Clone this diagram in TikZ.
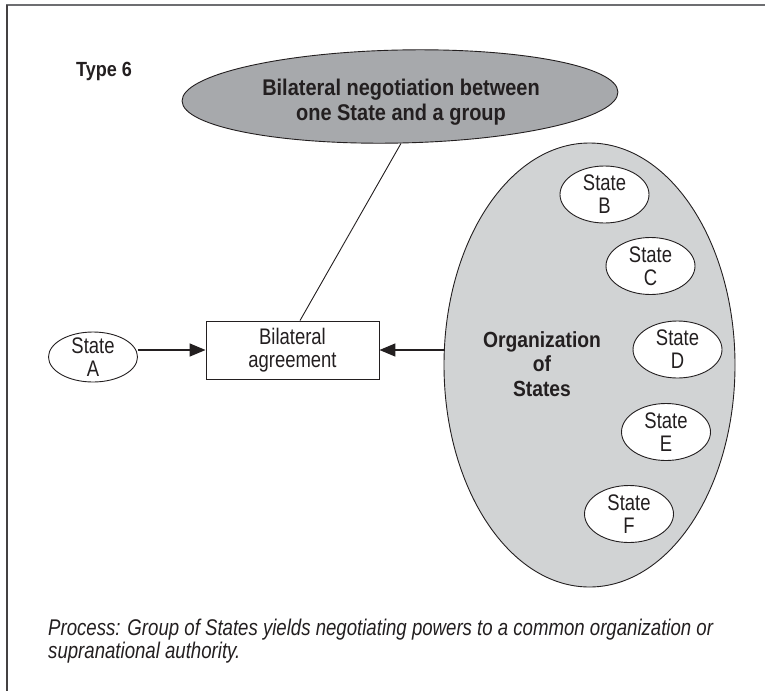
\documentclass[tikz,border=0pt]{standalone}
\usepackage{fontspec}
\setmainfont{Liberation Sans}
\newfontfamily\regfont{Liberation Sans}[FakeStretch=0.82]
\newfontfamily\boldfont{Liberation Sans}[FakeStretch=0.88]
\usetikzlibrary{shapes.geometric,arrows.meta}
\definecolor{txt}{HTML}{231F20}
\definecolor{darkfill}{HTML}{A7A9AC}
\definecolor{lightfill}{HTML}{D1D3D4}
\definecolor{framecol}{HTML}{6D6E71}
\begin{document}
\begin{tikzpicture}[x=1pt,y=-1pt,
  stateell/.style={ellipse, draw=txt, line width=0.9pt, fill=white, inner sep=0pt, outer sep=0pt,
    minimum width=89pt, minimum height=57pt},
  statelab/.style={font=\regfont\fontsize{22.5}{23}\selectfont, align=center, text=txt, inner sep=0pt},
  arrowline/.style={draw=txt, line width=1.5pt, -{Triangle[length=16pt,width=13pt]}},
  thinline/.style={draw=txt, line width=0.9pt}
]
\useasboundingbox (0,0) rectangle (765,691);
% frame
\coordinate (f0) at (6,5);
\coordinate (f1) at (765,5);
\coordinate (f2) at (7,691);
\draw[framecol, line width=2pt] (f0) -- (f1);
\draw[txt!85, line width=1.3pt] (f0 -| f2) -- (f2);

% title
\node[anchor=base west, inner sep=0pt, text=txt, font=\boldfont\bfseries\fontsize{20.5}{22}\selectfont] (type) at (76,76) {Type 6};

% top ellipse
\node[ellipse, draw=txt, line width=0.9pt, fill=darkfill, inner sep=0pt, minimum width=436pt, minimum height=93pt, rotate=1.2] (neg) at (400,96.5) {};
\node[align=center, inner sep=0pt, text=txt, font=\boldfont\bfseries\fontsize{22.7}{24.5}\selectfont] (negtext) at (401,102) {Bilateral negotiation between\\one State and a group};

% organization ellipse
\node[ellipse, draw=txt, line width=0.9pt, fill=lightfill, inner sep=0pt, minimum width=291pt, minimum height=444pt] (org) at (589.5,365) {};
\node[align=center, inner sep=0pt, text=txt, font=\boldfont\bfseries\fontsize{21.9}{24.5}\selectfont] (orgtext) at (542,364) {Organization\\of\\States};

% states
\node[stateell, minimum height=50pt, label={[statelab]center:{State\\A}}] (A) at (93,357) {};
\node[stateell, label={[statelab]center:{State\\B}}] (B) at (604.5,194.5) {};
\node[stateell, label={[statelab]center:{State\\C}}] (C) at (650.5,266) {};
\node[stateell, label={[statelab]center:{State\\D}}] (D) at (677.5,349.5) {};
\node[stateell, label={[statelab]center:{State\\E}}] (E) at (666,432) {};
\node[stateell, label={[statelab]center:{State\\F}}] (F) at (629,514) {};

% agreement box
\node[draw=txt, line width=0.9pt, fill=white, minimum width=173pt, minimum height=58pt, inner sep=0pt, align=center,
  text=txt, font=\regfont\fontsize{22.5}{23}\selectfont] (box) at (292.5,350) {Bilateral\\agreement};

% connectors
\draw[thinline] (neg.south) -- ([xshift=7.5pt]box.north);
\draw[arrowline] (box.west -| A.east) -- (box.west);
\draw[arrowline] (box.east -| org.west) -- (box.east);

% caption
\node[anchor=north west, inner sep=0pt, align=left, text=txt, font=\regfont\itshape\fontsize{22.7}{23}\selectfont] (caption) at (48,619)
  {Process: Group of States yields negotiating powers to a common organization or\\supranational authority.};
\end{tikzpicture}
\end{document}
